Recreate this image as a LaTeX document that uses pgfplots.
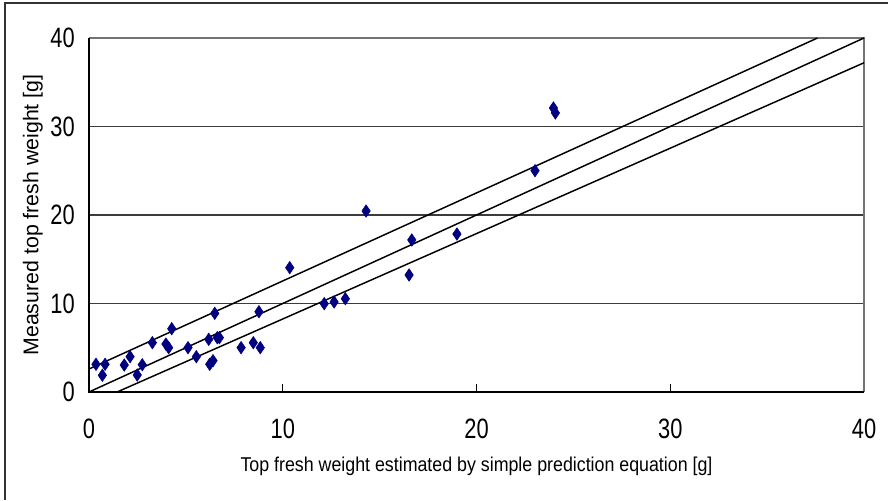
\documentclass[border=0pt]{standalone}
\usepackage{pgfplots}
\pgfplotsset{compat=1.18}
\usepackage{fontspec}
\setmainfont{Liberation Sans}
\newfontfamily\ticfont[FakeStretch=0.78]{Liberation Sans}
\newfontfamily\labfont[FakeStretch=0.89]{Liberation Sans}
\definecolor{navymark}{RGB}{0,0,128}
\definecolor{gridgray}{RGB}{60,60,60}

% Measured vs. estimated top fresh weight
\pgfplotstableread{
x y
0.36 3.13
0.83 3.13
0.69 1.89
1.82 3.05
2.12 3.99
2.49 1.92
2.75 3.08
3.27 5.57
3.97 5.42
4.11 5.01
4.27 7.15
5.11 5.01
5.54 3.99
6.18 5.95
6.23 3.13
6.40 3.54
6.49 8.89
6.62 6.14
6.73 6.14
7.85 5.01
8.48 5.57
8.77 9.07
8.84 5.01
10.36 14.05
12.14 9.98
12.65 10.17
13.23 10.54
14.30 20.45
16.52 13.22
16.66 17.18
18.99 17.85
23.02 25.01
23.97 32.09
24.07 31.53
}\pts

\begin{document}
\begin{tikzpicture}
\useasboundingbox (0,0) rectangle (666pt,375pt);
\draw[line width=0.8pt, black!80] (3.75pt,0) -- (3.75pt,372.75pt) -- (666pt,372.75pt);
\begin{axis}[
  at={(66.75pt,81pt)}, anchor=origin,
  scale only axis, width=581.25pt, height=265.5pt,
  xmin=0, xmax=40, ymin=0, ymax=40,
  xtick={0,10,...,40}, ytick={0,10,...,40},
  axis line style={draw=none},
  ymajorgrids, grid style={gridgray, line width=0.8pt},
  major tick length=6pt,
  xtick style={draw=black, line width=0.8pt},
  ytick style={draw=none},
  tick align=inside,
  xtick pos=bottom, ytick pos=left,
  /pgf/number format/assume math mode=true,
  xticklabel style={font=\fontsize{21}{24}\ticfont, anchor=north, inner sep=0pt, yshift=-20pt},
  yticklabel style={font=\fontsize{21}{24}\ticfont, anchor=east, inner sep=0pt, xshift=-10.5pt},
  xlabel={Top fresh weight estimated by simple prediction equation [g]},
  ylabel={Measured top fresh weight [g]},
  xlabel style={font=\fontsize{15}{17}\labfont, at={(axis description cs:0.5,-0.209)}, anchor=center},
  ylabel style={font=\fontsize{16}{18}\selectfont, at={(axis description cs:-0.0723,0.5)}, anchor=center, rotate=0},
  clip=false,
]
% plot area frame
\draw[black!55, line width=0.8pt] (axis cs:0,40) -- (axis cs:40,40) -- (axis cs:40,0);
\draw[black, line width=1pt] (axis cs:0,40) -- (axis cs:0,0) -- (axis cs:40,0);
% reference lines
\addplot[black, line width=1.1pt] coordinates {(0,2.6) (37.6,40)};
\addplot[black, line width=1.1pt] coordinates {(0,0) (40,40)};
\addplot[black, line width=1.1pt] coordinates {(1.45,0) (40,37.2)};
% observations
\addplot[only marks, mark=diamond*, mark size=4.7pt,
  mark options={fill=navymark, draw=navymark, xscale=0.9}]
  table[x=x, y=y] {\pts};
\end{axis}
\end{tikzpicture}
\end{document}
